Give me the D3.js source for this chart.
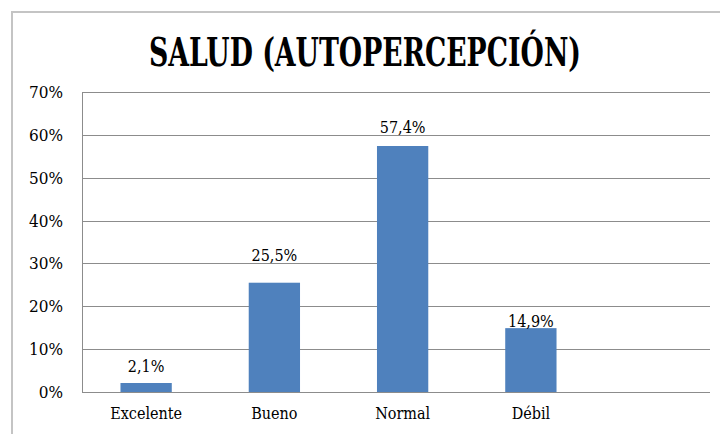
<!DOCTYPE html>
<html>
<head>
<meta charset="utf-8">
<script src="https://cdn.jsdelivr.net/npm/d3@7/dist/d3.min.js"></script>
<style>
  body { margin: 0; background: #fff; }
  text { font-family: "DejaVu Serif Condensed", "DejaVu Serif", serif; fill: #000; }
</style>
</head>
<body>
<svg width="720" height="434"></svg>
<script>
const categories = ['Excelente', 'Bueno', 'Normal', 'Débil']
const values = [2.1, 25.5, 57.4, 14.9]
const valueLabels = ['2,1%', '25,5%', '57,4%', '14,9%']
const yTicks = [0, 10, 20, 30, 40, 50, 60, 70]
const title = 'SALUD (AUTOPERCEPCIÓN)'

// gap between bar top and its label, as hand placed in the original
const labelGap = [11, 22, 13, 1]

const svg = d3.select('svg')
const width = +svg.attr('width')
const height = +svg.attr('height')

const margin = { top: 92, right: 10, bottom: 42, left: 82 }
const innerWidth = width - margin.left - margin.right
const innerHeight = height - margin.top - margin.bottom

// chart frame
svg.append('path')
    .attr('d', `M12,${height} V12 H${width}`)
    .attr('fill', 'none')
    .attr('stroke', '#c4c4c4')
    .attr('stroke-width', 2)

svg.append('text')
    .attr('x', 365)
    .attr('y', 66)
    .attr('text-anchor', 'middle')
    .attr('font-size', 40)
    .attr('font-weight', 'bold')
    .attr('textLength', 432)
    .attr('lengthAdjust', 'spacingAndGlyphs')
    .text(title)

const g = svg.append('g')
    .attr('transform', `translate(${margin.left}, ${margin.top})`)

const yScale = d3.scaleLinear()
    .domain([0, 70])
    .range([innerHeight, 0])

const xScale = d3.scaleBand()
    .domain(categories)
    .range([0, 513])
    .paddingInner(0.6)
    .paddingOuter(0.3)

// gridlines
g.append('g')
    .selectAll('line').data(yTicks)
    .enter().append('line')
        .attr('x1', 0)
        .attr('x2', innerWidth)
        .attr('y1', d => Math.round(yScale(d)) + 0.5)
        .attr('y2', d => Math.round(yScale(d)) + 0.5)
        .attr('stroke', '#8c8c8c')
        .attr('stroke-width', 1)

g.append('line')
    .attr('x1', 0.5).attr('x2', 0.5)
    .attr('y1', 0).attr('y2', innerHeight)
    .attr('stroke', '#8c8c8c')

const yAxis = g.append('g')
    .call(d3.axisLeft(yScale).tickValues(yTicks).tickFormat(d => d + '%').tickSize(0).tickPadding(19))
yAxis.select('.domain').remove()
yAxis.selectAll('text')
    .attr('font-size', 17)
    .attr('font-family', '"DejaVu Serif Condensed", "DejaVu Serif", serif')

const xAxis = g.append('g')
    .attr('transform', `translate(0, ${innerHeight})`)
    .call(d3.axisBottom(xScale).tickSize(0).tickPadding(16))
xAxis.select('.domain').remove()
xAxis.selectAll('text')
    .attr('font-size', 16)
    .attr('font-family', '"DejaVu Serif Condensed", "DejaVu Serif", serif')

g.selectAll('rect').data(values)
    .enter().append('rect')
        .attr('x', (d, i) => xScale(categories[i]))
        .attr('y', d => yScale(d))
        .attr('width', xScale.bandwidth())
        .attr('height', d => innerHeight - yScale(d))
        .attr('fill', '#4f81bd')

g.selectAll('.value').data(values)
    .enter().append('text')
        .attr('class', 'value')
        .attr('x', (d, i) => xScale(categories[i]) + xScale.bandwidth() / 2)
        .attr('y', (d, i) => yScale(d) - labelGap[i])
        .attr('text-anchor', 'middle')
        .attr('font-size', 16)
        .text((d, i) => valueLabels[i])
</script>
</body>
</html>
